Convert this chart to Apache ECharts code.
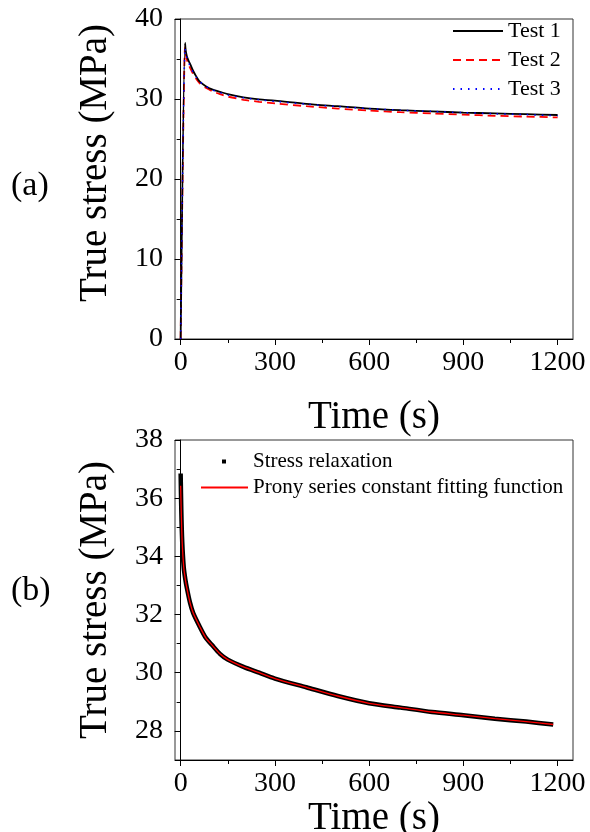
<!DOCTYPE html>
<html>
<head>
<meta charset="utf-8">
<script src="https://cdn.jsdelivr.net/npm/echarts@6/dist/echarts.min.js"></script>
<style>
html,body{margin:0;padding:0;background:#fff;}
#chart{width:590px;height:832px;}
</style>
</head>
<body>
<div id="chart"></div>
<script>
// ---- Panel (a) data ----
const timeA = [0, 14, 16, 20, 25, 30, 40, 50, 60, 80, 100, 125, 150, 200, 250, 300, 400, 500, 600, 700, 800, 900, 1000, 1100, 1200];
const test1 = [0, 37.0, 36.1, 35.3, 34.8, 34.4, 33.5, 32.8, 32.2, 31.6, 31.2, 30.9, 30.6, 30.2, 29.95, 29.8, 29.4, 29.1, 28.8, 28.6, 28.45, 28.3, 28.2, 28.1, 28.0];
const test2 = [0, 36.5, 35.6, 34.9, 34.3, 33.9, 33.1, 32.5, 32.0, 31.4, 31.0, 30.6, 30.3, 29.9, 29.65, 29.45, 29.1, 28.8, 28.55, 28.35, 28.2, 28.05, 27.9, 27.8, 27.7];
const test3 = [0, 36.4, 35.7, 35.1, 34.6, 34.1, 33.3, 32.7, 32.2, 31.6, 31.15, 30.8, 30.5, 30.15, 29.9, 29.7, 29.35, 29.05, 28.8, 28.6, 28.45, 28.3, 28.15, 28.05, 27.9];

// ---- Panel (b) data ----
const timeB = [0, 2, 5, 10, 15, 20, 30, 40, 60, 80, 100, 125, 150, 200, 250, 300, 400, 500, 600, 700, 800, 900, 1000, 1100, 1186];
const relaxation = [36.85, 35.6, 34.5, 33.6, 33.2, 32.9, 32.4, 32.05, 31.6, 31.2, 30.95, 30.65, 30.45, 30.2, 30.0, 29.8, 29.5, 29.2, 28.95, 28.8, 28.65, 28.54, 28.42, 28.32, 28.22];
const pronyFit = [36.43, 35.5, 34.45, 33.6, 33.2, 32.9, 32.4, 32.05, 31.6, 31.2, 30.95, 30.65, 30.45, 30.2, 30.0, 29.8, 29.5, 29.2, 28.95, 28.8, 28.65, 28.54, 28.42, 28.32, 28.22];

// ---- Tick labels ----
const xMajorTicks = [0, 300, 600, 900, 1200];
const xMinorTicks = [150, 450, 750, 1050];
const yMajorTicksA = [0, 10, 20, 30, 40];
const yMinorTicksA = [5, 15, 25, 35];
const yMajorTicksB = [28, 30, 32, 34, 36, 38];
const yMinorTicksB = [29, 31, 33, 35, 37];

const seriesNamesA = ['Test 1', 'Test 2', 'Test 3'];
const seriesNamesB = ['Stress relaxation', 'Prony series constant fitting function'];

const FONT = '"Liberation Serif", "Times New Roman", serif';
const AX = '#000';

function zip(xs, ys) { return xs.map((x, i) => [x, ys[i]]); }
const plain = v => String(v);

function xAxes(grid, gap) {
  const base = {gridIndex: grid, type: 'value', position: 'bottom', min: -18, max: 1249, splitLine: {show: false}};
  return [
    Object.assign({}, base, {
      axisLine: {show: true, lineStyle: {color: AX, width: 1}},
      axisTick: {show: true, customValues: xMajorTicks, length: 6, lineStyle: {color: AX}},
      axisLabel: {show: true, customValues: xMajorTicks, formatter: plain, fontFamily: FONT, fontSize: 28, color: '#000', margin: 10},
      name: 'Time (s)', nameLocation: 'middle', nameGap: gap,
      nameTextStyle: {fontFamily: FONT, fontSize: 39, color: '#000'}
    }),
    Object.assign({}, base, {
      axisLine: {show: false},
      axisTick: {show: true, customValues: xMinorTicks, length: 4, lineStyle: {color: AX}},
      axisLabel: {show: false}
    })
  ];
}

function yAxes(grid, min, max, majors, minors, pad) {
  const base = {gridIndex: grid, type: 'value', position: 'left', min: min, max: max, splitLine: {show: false}};
  return [
    Object.assign({}, base, {
      axisLine: {show: true, lineStyle: {color: AX, width: 1}},
      axisTick: {show: true, customValues: majors, length: 6, lineStyle: {color: AX}},
      axisLabel: {show: true, customValues: majors, formatter: plain, fontFamily: FONT, fontSize: 28, color: '#000', margin: 12},
      name: 'True stress (MPa)', nameLocation: 'middle', nameGap: 60,
      nameTextStyle: {fontFamily: FONT, fontSize: 39, color: '#000', padding: pad}
    }),
    Object.assign({}, base, {
      axisLine: {show: false},
      axisTick: {show: true, customValues: minors, length: 4, lineStyle: {color: AX}},
      axisLabel: {show: false}
    })
  ];
}

const lineBase = {type: 'line', showSymbol: false, symbol: 'none', smooth: 0.25};

const chart = echarts.init(document.getElementById('chart'), null, {renderer: 'canvas'});
const option = {
  animation: false,
  backgroundColor: '#fff',
  title: [
    {text: '(a)', left: 6, top: 164, textStyle: {fontFamily: FONT, fontSize: 34, fontWeight: 'normal', color: '#000'}},
    {text: '(b)', left: 6, top: 569, textStyle: {fontFamily: FONT, fontSize: 34, fontWeight: 'normal', color: '#000'}}
  ],
  grid: [
    {left: 175, top: 19, width: 398, height: 320, show: true, borderColor: '#333', borderWidth: 1, backgroundColor: 'transparent', containLabel: false, outerBoundsMode: 'none'},
    {left: 175, top: 440, width: 398, height: 320, show: true, borderColor: '#333', borderWidth: 1, backgroundColor: 'transparent', containLabel: false, outerBoundsMode: 'none'}
  ],
  xAxis: [].concat(xAxes(0, 59), xAxes(1, 37)),
  yAxis: [].concat(
    yAxes(0, 0, 40, yMajorTicksA, yMinorTicksA, [0, 0, 0, 32]),
    yAxes(1, 27, 38, yMajorTicksB, yMinorTicksB, 0)
  ),
  legend: [
    {orient: 'vertical', left: 452, top: 20, padding: 0, itemWidth: 50, itemHeight: 12, itemGap: 7,
     itemStyle: {opacity: 0},
     textStyle: {fontFamily: FONT, fontSize: 22, color: '#000'}, data: seriesNamesA},
    {orient: 'vertical', left: 222, top: 451, padding: 0, itemWidth: 4, itemHeight: 4, itemGap: 4,
     textStyle: {fontFamily: FONT, fontSize: 21, color: '#000', padding: [0, 0, 0, 22]},
     data: [{name: seriesNamesB[0], icon: 'rect'}]},
    {orient: 'vertical', left: 200, top: 477, padding: 0, itemWidth: 47, itemHeight: 10, itemGap: 4,
     itemStyle: {opacity: 0},
     textStyle: {fontFamily: FONT, fontSize: 21, color: '#000'}, data: [seriesNamesB[1]]}
  ],
  series: [
    Object.assign({}, lineBase, {name: seriesNamesA[1], xAxisIndex: 0, yAxisIndex: 0, data: zip(timeA, test2),
     color: '#ff0000', lineStyle: {color: '#ff0000', width: 1.8, type: [8, 5]}, z: 2}),
    Object.assign({}, lineBase, {name: seriesNamesA[0], xAxisIndex: 0, yAxisIndex: 0, data: zip(timeA, test1),
     color: '#000000', lineStyle: {color: '#000000', width: 1.8, type: 'solid'}, z: 3}),
    Object.assign({}, lineBase, {name: seriesNamesA[2], xAxisIndex: 0, yAxisIndex: 0, data: zip(timeA, test3),
     color: '#0000ff', lineStyle: {color: '#0000ff', width: 1.5, type: [1.5, 6]}, z: 4}),
    Object.assign({}, lineBase, {name: seriesNamesB[0], xAxisIndex: 2, yAxisIndex: 2, data: zip(timeB, relaxation),
     color: '#000000', lineStyle: {color: '#000000', width: 4.5}, z: 2}),
    Object.assign({}, lineBase, {name: seriesNamesB[1], xAxisIndex: 2, yAxisIndex: 2, data: zip(timeB, pronyFit),
     color: '#ff0000', lineStyle: {color: '#ff0000', width: 1.3}, z: 3})
  ]
};
chart.setOption(option);
</script>
</body>
</html>
